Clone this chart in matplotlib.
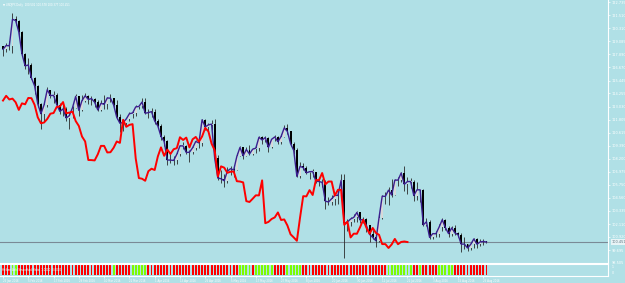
import matplotlib
matplotlib.use("Agg")
import matplotlib.pyplot as plt
from matplotlib.transforms import blended_transform_factory

# USDJPY daily bars, 26 Jan 2016 .. 26 Aug 2016 (last bar still open)
first_open = 118.65
closes = [
    118.35, 118.70, 118.67, 121.13, 121.02, 119.95, 117.93, 116.81, 116.89, 115.68,
    114.95, 113.28, 112.37, 113.19, 114.59, 114.05, 114.07, 113.22, 112.58, 112.81,
    111.97, 112.19, 112.93, 113.98, 112.67, 113.59, 114.03, 113.69, 113.77, 113.43,
    112.72, 113.33, 113.24, 113.83, 113.81, 113.19, 112.03, 111.48, 111.55, 111.88,
    112.37, 112.43, 113.00, 113.04, 113.45, 112.41, 112.47, 112.56, 111.69, 111.23,
    110.25, 109.79, 108.07, 108.06, 108.03, 108.60, 109.38, 109.38, 108.77, 108.79,
    109.20, 109.79, 109.66, 111.80, 111.15, 111.33, 111.40, 108.21, 106.39, 106.33,
    106.14, 107.03, 107.26, 107.14, 108.40, 109.24, 108.46, 109.04, 108.63, 109.07,
    109.17, 110.18, 109.93, 110.15, 109.24, 109.99, 110.21, 109.77, 110.25, 111.05,
    110.72, 109.59, 108.96, 106.54, 107.48, 107.36, 106.88, 106.98, 107.00, 106.10,
    106.07, 105.99, 104.25, 104.17, 104.47, 104.79, 104.78, 106.18, 102.20, 102.32,
    102.59, 102.74, 103.20, 102.50, 102.55, 101.99, 101.17, 100.88, 100.57, 102.72,
    104.71, 104.69, 105.27, 104.82, 106.20, 106.20, 106.86, 105.81, 106.07, 106.07,
    104.77, 105.30, 105.30, 102.05, 102.33, 100.88, 101.23, 101.22, 101.83, 102.52,
    101.79, 101.23, 101.76, 101.30, 101.12, 100.26, 100.26, 99.90, 100.23, 100.74,
    100.25, 100.46, 100.502, 100.451]
highs = [
    118.60, 118.95, 119.10, 121.69, 121.40, 121.03, 120.05, 118.00, 117.50, 117.05,
    115.80, 115.05, 113.40, 113.40, 114.87, 114.60, 114.50, 114.30, 113.40, 113.40,
    113.00, 112.50, 113.10, 114.20, 114.00, 114.10, 114.25, 114.10, 114.05, 113.80,
    113.60, 113.60, 114.10, 113.90, 114.20, 113.85, 113.60, 112.30, 111.90, 112.00,
    112.50, 112.60, 113.20, 113.20, 113.80, 113.80, 112.80, 112.90, 112.85, 111.90,
    111.40, 110.40, 109.90, 108.60, 108.40, 108.80, 109.50, 109.75, 109.50, 109.00,
    109.30, 109.90, 109.95, 111.88, 111.90, 111.50, 111.80, 111.88, 108.50, 107.10,
    106.80, 107.40, 107.50, 107.60, 108.70, 109.40, 109.30, 109.30, 109.45, 109.20,
    109.35, 110.30, 110.30, 110.30, 110.20, 110.10, 110.40, 110.30, 110.50, 111.35,
    111.40, 110.80, 109.70, 109.20, 107.90, 107.75, 107.50, 107.00, 107.20, 107.00,
    106.40, 106.30, 106.25, 104.60, 104.85, 104.90, 105.15, 106.80, 106.80, 102.60,
    102.80, 103.10, 103.30, 103.20, 102.80, 102.70, 101.90, 101.60, 101.10, 103.00,
    104.80, 105.10, 105.60, 106.30, 106.30, 106.50, 107.00, 107.50, 106.50, 106.40,
    106.20, 106.00, 105.40, 105.40, 102.70, 102.50, 101.30, 101.50, 102.10, 102.65,
    102.60, 101.90, 101.90, 102.00, 101.40, 101.30, 100.90, 100.30, 100.40, 100.85,
    100.80, 100.75, 100.70, 100.578]
lows = [
    117.70, 118.10, 118.30, 118.00, 120.60, 119.70, 117.70, 116.50, 116.10, 115.60,
    114.20, 113.00, 110.98, 111.60, 113.00, 113.80, 113.40, 113.00, 112.35, 112.20,
    111.70, 110.98, 112.00, 112.90, 112.20, 112.60, 113.50, 113.30, 113.20, 113.00,
    112.60, 112.60, 112.80, 112.80, 113.50, 112.90, 111.90, 110.67, 110.80, 111.30,
    111.70, 112.00, 112.20, 112.80, 112.90, 112.30, 112.00, 112.10, 111.40, 111.00,
    109.90, 109.40, 107.65, 107.80, 107.63, 107.70, 108.40, 109.10, 108.60, 107.90,
    108.60, 109.00, 109.20, 109.40, 110.90, 110.60, 110.90, 107.80, 106.20, 105.90,
    105.55, 105.95, 106.70, 106.50, 107.10, 108.40, 108.20, 108.40, 108.50, 108.50,
    108.70, 108.90, 109.60, 109.70, 108.80, 109.20, 109.80, 109.60, 109.60, 110.20,
    110.50, 109.40, 108.60, 106.50, 106.40, 107.10, 106.80, 106.30, 106.50, 105.90,
    105.70, 105.60, 103.55, 103.90, 103.90, 103.90, 104.00, 104.70, 99.00, 101.45,
    101.90, 102.30, 102.30, 102.20, 102.20, 101.40, 100.50, 100.70, 99.95, 100.50,
    102.60, 104.00, 103.90, 104.60, 104.80, 105.70, 106.00, 105.20, 104.90, 105.50,
    104.30, 104.40, 104.20, 101.90, 101.90, 100.70, 100.70, 100.90, 100.90, 101.50,
    101.60, 100.95, 101.00, 101.10, 100.90, 99.55, 99.80, 99.60, 99.75, 99.90,
    99.90, 100.10, 100.20, 100.377]
# forex daily bars open at the previous close
opens = [first_open] + closes[:-1]

# lagging (chikou-style) red line: closes drawn this many bars back
lag_shift = 25
# trend histogram: runs of bars shown green (the rest are red)
green_runs = [(3, 4), (35, 35), (41, 45), (75, 78), (80, 85), (90, 94),
              (122, 129), (132, 132), (138, 142)]

date_idx = list(range(0, 153, 8))
date_labels = ["26 Jan 2016", "5 Feb 2016", "17 Feb 2016", "29 Feb 2016", "10 Mar 2016",
               "22 Mar 2016", "1 Apr 2016", "13 Apr 2016", "25 Apr 2016", "5 May 2016",
               "17 May 2016", "27 May 2016", "8 Jun 2016", "20 Jun 2016", "30 Jun 2016",
               "12 Jul 2016", "22 Jul 2016", "3 Aug 2016", "15 Aug 2016", "25 Aug 2016"]
price_ticks = [122.735, 121.510, 120.310, 119.085, 117.890, 116.670, 115.445, 114.255,
               113.030, 111.805, 110.615, 109.390, 108.200, 106.975, 105.750, 104.560,
               103.335, 102.110, 100.920, 99.695]
bottom_price = 98.505
last_price = 100.451

BG = "#b0e0e6"
W, H = 625, 283

fig = plt.figure(figsize=(W / 100, H / 100), dpi=100, facecolor=BG)
ax = fig.add_axes([0, (H - 263) / H, 608 / W, 263 / H], facecolor=BG)
ax2 = fig.add_axes([0, (H - 276) / H, 608 / W, 12 / H], facecolor=BG)

n = len(closes)
xs = list(range(n))
x_left, x_right = -3 / 3.16, 605 / 3.16

# candles
for i in xs:
    o, c = opens[i], closes[i]
    ax.vlines(i, lows[i], highs[i], color="#2a2a2a", lw=0.6, zorder=2)
    height = max(abs(c - o), 0.04)
    ax.bar(i, height, bottom=min(o, c), width=0.62,
           color="black" if c < o else "#d8d8d8", lw=0, zorder=3)
ax.plot(xs, closes, color="#3b1f8f", lw=1.0, zorder=4)
ax.plot(xs[:-lag_shift], closes[lag_shift:], color="red", lw=1.4, zorder=5)
ax.axhline(last_price, color="#7a8a96", lw=0.8, zorder=1)

ax.set_xlim(x_left, x_right)
ax.set_ylim(bottom_price, 122.926)
ax.set_xticks([])
ax.yaxis.tick_right()
ax.set_yticks(price_ticks)
ax.set_yticklabels([f"{t:.3f}" for t in price_ticks])
ax.tick_params(axis="y", colors="white", labelsize=2.5, length=1.5, width=0.5, pad=1)
for side in ("left", "top"):
    ax.spines[side].set_visible(False)
for side in ("right", "bottom"):
    ax.spines[side].set_color("white")
    ax.spines[side].set_linewidth(0.8)

ax.text(1.006, last_price, f"{last_price:.3f}", transform=blended_transform_factory(ax.transAxes, ax.transData),
        fontsize=2.5, color="#5f7480", va="center", ha="left",
        bbox=dict(boxstyle="square,pad=0.25", fc="#e8f4f6", ec="none"))
ax.text(1.006, bottom_price, f"{bottom_price:.3f}", transform=blended_transform_factory(ax.transAxes, ax.transData),
        fontsize=2.5, color="white", va="center", ha="left")

fig.text(3 / W, 1 - 5 / H, "\u25bc USDJPY,Daily  100.502 100.578 100.377 100.451",
         fontsize=1.9, color="white", va="center", ha="left")

# trend histogram panel
colors = ["#ff0000"] * n
for a, b in green_runs:
    for i in range(a, b + 1):
        colors[i] = "#7cfc00"
ax2.bar(xs, [1] * n, bottom=0, width=0.62, color=colors, lw=0)
ax2.set_xlim(x_left, x_right)
ax2.set_ylim(-0.08, 1.08)
ax2.set_yticks([])
ax2.spines["left"].set_visible(False)
for side in ("right", "bottom", "top"):
    ax2.spines[side].set_color("white")
    ax2.spines[side].set_linewidth(0.8)
ax2.text(1.006, 0.72, "1", transform=ax2.transAxes, fontsize=2.3, color="white", va="center")
ax2.text(1.006, 0.28, "0", transform=ax2.transAxes, fontsize=2.3, color="white", va="center")
ax2.text(0.004, 0.5, "Heiken Ashi Smoothed Histo  1.0000  0.0000", transform=ax2.transAxes,
         fontsize=1.9, color="white", va="center", ha="left")
ax2.set_xticks(date_idx)
ax2.set_xticklabels(date_labels, ha="left")
ax2.tick_params(axis="x", colors="white", labelsize=1.9, length=1.5, width=0.5, pad=0.6)

fig.savefig("out.png", dpi=100, facecolor=BG)
